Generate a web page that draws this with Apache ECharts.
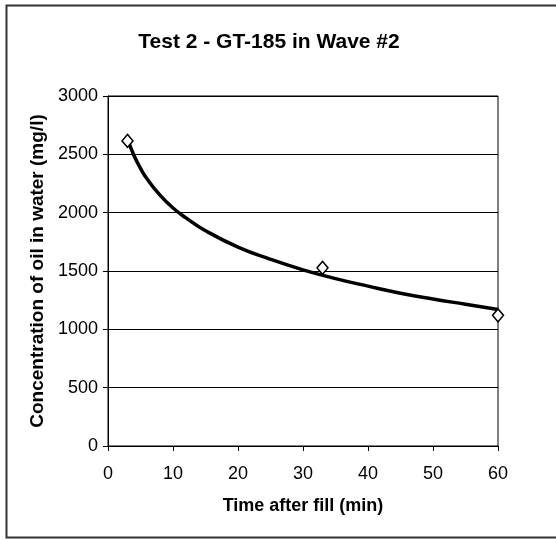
<!DOCTYPE html>
<html>
<head>
<meta charset="utf-8">
<script src="https://cdn.jsdelivr.net/npm/echarts@6/dist/echarts.min.js"></script>
<style>html,body{margin:0;padding:0;background:#fff}#c{width:556px;height:540px}</style>
</head>
<body>
<div id="c"></div>
<script>
// measured points: [time (min), concentration (mg/l)]
const measuredTime = [3, 33, 60];
const measuredConc = [2615, 1527, 1120];
// trend line
const trendTime = [3, 4, 5, 6, 8, 10, 12, 15, 20, 25, 30, 35, 40, 45, 50, 55, 60];
const trendConc = [2630, 2490, 2380, 2290, 2150, 2040, 1955, 1845, 1705, 1600, 1510, 1435, 1370, 1310, 1260, 1215, 1170];
const titleText = 'Test 2 - GT-185 in Wave #2';
const xName = 'Time after fill (min)';
const yName = 'Concentration of oil in water (mg/l)';

const chart = echarts.init(document.getElementById('c'), null, {renderer: 'canvas'});
const font = 'Arial, "Liberation Sans", sans-serif';
chart.setOption({
  animation: false,
  backgroundColor: '#fff',
  title: {
    text: titleText, left: 264, top: 27, textAlign: 'center',
    textStyle: {fontFamily: font, fontSize: 21, fontWeight: 'bold', color: '#000'}
  },
  graphic: [{
    type: 'rect', shape: {x: 6.5, y: 5.5, width: 600, height: 532},
    style: {fill: 'none', stroke: '#333', lineWidth: 2}, silent: true, z: 100
  }],
  grid: {left: 108, right: 58, top: 96, bottom: 94, show: true, borderColor: '#000', borderWidth: 1, backgroundColor: '#fff'},
  xAxis: {
    type: 'value', min: 0, max: 60, interval: 10,
    name: xName, nameLocation: 'middle', nameGap: 51,
    nameTextStyle: {fontFamily: font, fontSize: 18, fontWeight: 'bold', color: '#000'},
    axisLine: {show: true, lineStyle: {color: '#000', width: 1}},
    axisTick: {show: true, length: 5, lineStyle: {color: '#000'}},
    axisLabel: {fontFamily: font, fontSize: 18, color: '#000', margin: 19, formatter: v => String(v)},
    splitLine: {show: false}
  },
  yAxis: {
    type: 'value', min: 0, max: 3000, interval: 500,
    name: yName, nameLocation: 'middle', nameGap: 58,
    nameTextStyle: {fontFamily: font, fontSize: 19, fontWeight: 'bold', color: '#000'},
    axisLine: {show: true, lineStyle: {color: '#000', width: 1}},
    axisTick: {show: true, length: 5, lineStyle: {color: '#000'}},
    axisLabel: {fontFamily: font, fontSize: 18, color: '#000', margin: 10, formatter: v => String(v)},
    splitLine: {show: true, lineStyle: {color: '#000', width: 1}}
  },
  series: [{
    type: 'line', smooth: true, showSymbol: false, symbol: 'none',
    data: trendTime.map((t, i) => [t, trendConc[i]]),
    lineStyle: {color: '#000', width: 3.5}, z: 2
  }, {
    type: 'scatter', symbol: 'diamond', symbolSize: [11, 13],
    data: measuredTime.map((t, i) => [t, measuredConc[i]]),
    itemStyle: {color: '#fff', borderColor: '#000', borderWidth: 1.5, opacity: 1}, z: 3
  }]
});
</script>
</body>
</html>
